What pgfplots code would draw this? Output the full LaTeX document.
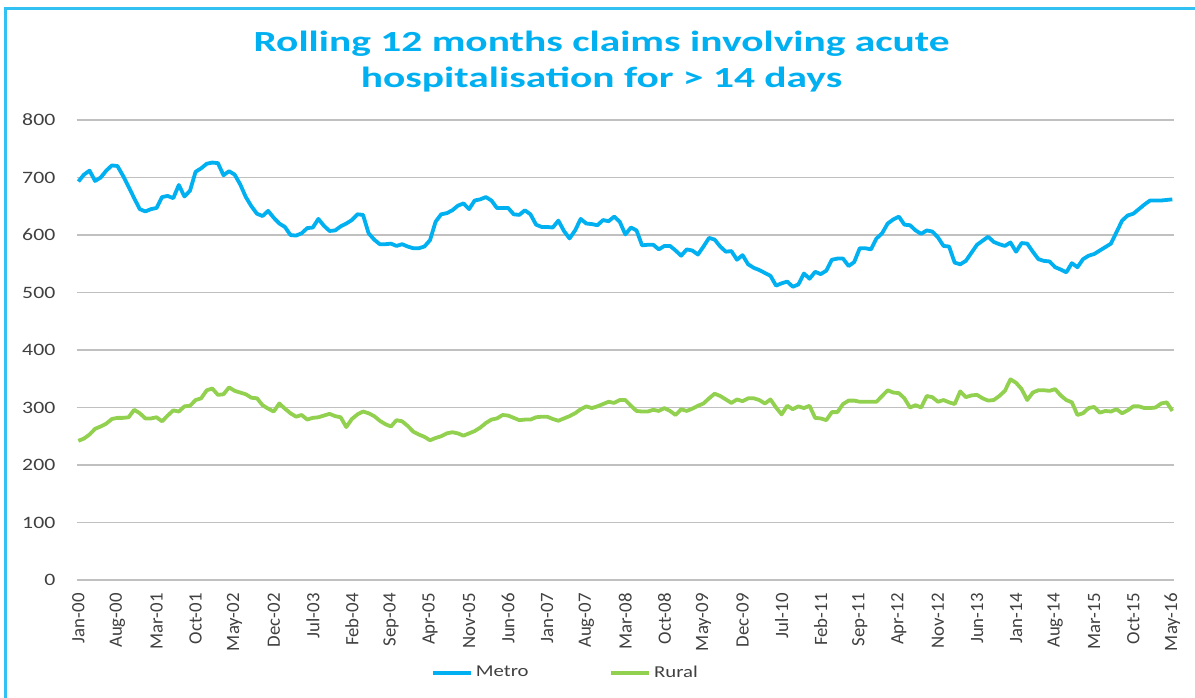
\documentclass[border=0pt]{standalone}
\usepackage{fontspec}
\setmainfont{Carlito}
\newfontfamily\widef{Carlito}[FakeStretch=1.25]
\newfontfamily\titlef{Carlito}[FakeStretch=1.42]
\usepackage{pgfplots}
\usepackage{pgfplotstable}
\pgfplotsset{compat=1.18}
\definecolor{metro}{RGB}{0,176,240}
\definecolor{rural}{RGB}{146,208,80}
\definecolor{gridc}{RGB}{192,192,192}
\definecolor{txt}{RGB}{64,64,64}

\pgfplotstableread{
m metro rural
0 693 242
1 705 246
2 712 253
3 694 263
4 700 267
5 712 272
6 721 280
7 720 282
8 703 282
9 684 283
10 664 296
11 645 290
12 641 281
13 645 281
14 647 283
15 666 276
16 668 286
17 664 295
18 687 293
19 667 302
20 677 303
21 710 313
22 716 316
23 724 330
24 726 333
25 725 322
26 704 323
27 711 335
28 705 329
29 688 326
30 666 323
31 650 317
32 637 316
33 633 304
34 642 298
35 630 293
36 620 307
37 614 298
38 600 290
39 599 284
40 603 287
41 612 279
42 613 282
43 628 283
44 616 286
45 607 289
46 608 285
47 615 283
48 620 266
49 626 280
50 636 288
51 635 293
52 603 290
53 592 285
54 584 277
55 584 271
56 585 267
57 581 278
58 584 276
59 580 268
60 577 258
61 577 253
62 580 249
63 591 243
64 623 247
65 636 250
66 638 255
67 643 257
68 651 255
69 655 251
70 645 255
71 660 259
72 662 265
73 666 273
74 660 279
75 647 281
76 647 287
77 647 286
78 636 282
79 635 278
80 643 279
81 636 279
82 618 283
83 614 284
84 614 284
85 613 280
86 625 277
87 607 281
88 594 285
89 608 290
90 628 297
91 620 302
92 619 299
93 617 302
94 626 306
95 624 310
96 632 308
97 623 313
98 601 313
99 613 303
100 608 294
101 582 293
102 583 293
103 583 296
104 575 294
105 581 299
106 581 294
107 573 287
108 564 297
109 575 294
110 573 298
111 566 303
112 580 307
113 595 316
114 592 324
115 580 320
116 571 314
117 572 308
118 557 314
119 565 311
120 549 316
121 543 316
122 539 313
123 534 307
124 529 314
125 512 300
126 516 288
127 519 303
128 510 297
129 514 302
130 533 299
131 524 303
132 536 282
133 532 281
134 538 278
135 557 292
136 559 292
137 559 306
138 546 312
139 553 312
140 577 310
141 577 310
142 575 310
143 594 310
144 603 320
145 620 330
146 627 326
147 632 325
148 618 316
149 617 300
150 608 304
151 602 300
152 608 320
153 606 318
154 596 310
155 581 313
156 580 309
157 552 306
158 549 328
159 555 318
160 569 321
161 583 322
162 590 316
163 597 312
164 588 313
165 584 320
166 581 329
167 587 349
168 571 343
169 586 332
170 585 313
171 571 326
172 558 330
173 555 330
174 554 329
175 544 332
176 540 321
177 535 313
178 551 309
179 544 287
180 558 290
181 564 299
182 567 301
183 573 291
184 579 294
185 585 293
186 605 297
187 625 290
188 634 295
189 637 302
190 645 302
191 653 299
192 660 299
193 660 300
194 660 307
195 661 309
196 662 294
}\data

\begin{document}
\begin{tikzpicture}
\useasboundingbox (-38.35pt,-58.5pt) rectangle (559.15pt,290pt);
\draw[metro!80, line width=1.4pt] (-35.6pt,-60pt) -- (-35.6pt,285.75pt) -- (562pt,285.75pt);
\begin{axis}[
  at={(0pt,0pt)}, anchor=south west,
  scale only axis,
  width=548.65pt, height=230pt,
  xmin=-0.3, xmax=196.3,
  ymin=0, ymax=800,
  ytick={0,100,...,800},
  xtick={0,7,...,196},
  xticklabels={Jan-00,Aug-00,Mar-01,Oct-01,May-02,Dec-02,Jul-03,Feb-04,Sep-04,Apr-05,Nov-05,Jun-06,Jan-07,Aug-07,Mar-08,Oct-08,May-09,Dec-09,Jul-10,Feb-11,Sep-11,Apr-12,Nov-12,Jun-13,Jan-14,Aug-14,Mar-15,Oct-15,May-16},
  /pgf/number format/assume math mode=true,
  axis line style={draw=none},
  major tick length=0pt,
  ymajorgrids,
  major grid style={gridc, line width=0.75pt},
  yticklabel style={font=\widef\fontsize{8.7}{10}\selectfont, text=txt, anchor=east, inner sep=0pt, xshift=-10.5pt},
  xticklabel style={font=\fontsize{9.4}{10}\selectfont, text=txt, rotate=90, anchor=east, inner sep=0pt},
  xticklabel shift=6.5pt,
  clip=false,
  legend columns=2,
  legend style={at={(0.446,-0.202)}, anchor=center, draw=none, fill=none,
    font=\widef\fontsize{8.3}{10}\selectfont, text=txt,
    /tikz/every even column/.append style={column sep=39pt},
    nodes={inner sep=1.5pt}},
  legend image code/.code={\draw[#1, line width=1.8pt] (0pt,0pt) -- (19pt,0pt);},
]
\addplot[metro, line width=1.9pt, line join=round] table[x=m, y=metro] {\data};
\addlegendentry{Metro}
\addplot[rural, line width=1.9pt, line join=round] table[x=m, y=rural] {\data};
\addlegendentry{Rural}
\end{axis}
\node[font=\titlef\bfseries\fontsize{14.6}{18}\selectfont, text=metro, align=center] at (262.4pt,259pt) {Rolling 12 months claims involving acute\\hospitalisation for > 14 days};
\end{tikzpicture}
\end{document}
